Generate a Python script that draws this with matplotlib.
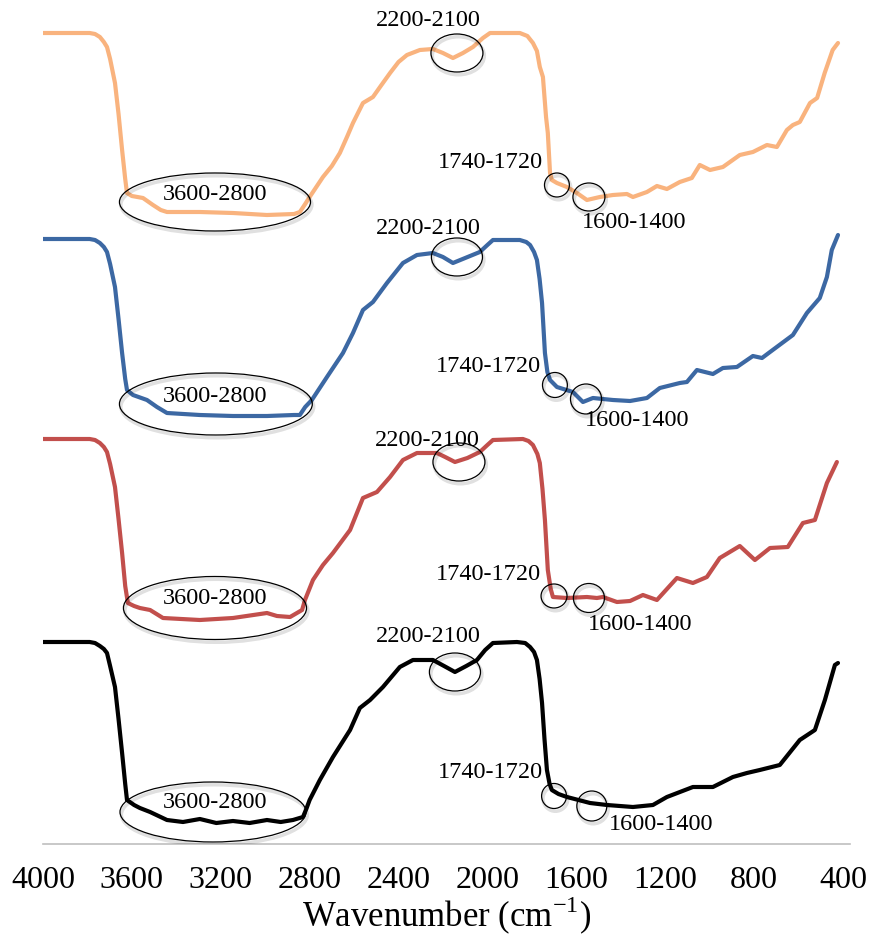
import matplotlib
matplotlib.use("Agg")
import matplotlib.pyplot as plt
from matplotlib.patches import Ellipse
import matplotlib.patheffects as pe

plt.rcParams['font.family'] = ['Liberation Serif', 'DejaVu Serif']
plt.rcParams['mathtext.fontset'] = 'custom'
plt.rcParams['mathtext.rm'] = 'Liberation Serif'

# FTIR spectra, stacked (transmittance, arbitrary units incl. offset)
wn_orange = [4000, 3790, 3766, 3744, 3726, 3712, 3698, 3676, 3660, 3644, 3630, 3622, 3600,
             3550, 3505, 3470, 3442, 3294, 3145, 2992, 2870, 2844, 2820, 2800, 2740, 2700,
             2664, 2630, 2605, 2560, 2515, 2480, 2438, 2400, 2362, 2304, 2245, 2200, 2155,
             2110, 2065, 2020, 1988, 1854, 1820, 1795, 1777, 1764, 1750, 1736, 1728, 1718,
             1710, 1687, 1642, 1597, 1552, 1494, 1435, 1372, 1345, 1282, 1237, 1192, 1134,
             1080, 1044, 998, 940, 864, 805, 742, 697, 652, 625, 594, 548, 516, 482, 446, 422]
t_orange = [811, 811, 810, 807, 802, 797, 785, 761, 730, 694, 665, 651, 648,
            646, 639, 634, 632, 632, 631, 629, 630, 632, 640, 647, 667, 678,
            691, 708, 721, 741, 747, 758, 771, 782, 789, 794, 795, 791, 786,
            791, 797, 806, 811, 811, 808, 801, 793, 777, 767, 727, 711, 671,
            664, 661, 657, 651, 644, 647, 649, 650, 647, 652, 658, 655, 662,
            666, 679, 674, 677, 689, 692, 699, 697, 714, 719, 722, 741, 746, 771, 794, 801]

wn_blue = [4000, 3790, 3766, 3744, 3726, 3712, 3698, 3676, 3660, 3644, 3630, 3622, 3595,
           3532, 3487, 3442, 3294, 3145, 2992, 2870, 2844, 2820, 2790, 2722, 2650, 2605,
           2560, 2515, 2452, 2380, 2317, 2245, 2200, 2155, 2100, 2034, 2000, 1975, 1854,
           1825, 1808, 1790, 1777, 1765, 1754, 1741, 1730, 1718, 1687, 1615, 1570, 1525,
           1435, 1358, 1282, 1224, 1134, 1102, 1057, 985, 940, 877, 805, 764, 728, 625,
           562, 504, 472, 450, 422]
t_blue = [605, 605, 604, 601, 597, 592, 580, 557, 525, 491, 465, 454, 449,
          444, 437, 431, 429, 428, 428, 429, 429, 437, 444, 467, 491, 511,
          534, 542, 561, 581, 589, 591, 587, 581, 586, 592, 599, 604, 604,
          602, 599, 592, 584, 565, 541, 491, 472, 464, 457, 452, 442, 446,
          444, 443, 446, 456, 461, 462, 474, 470, 476, 477, 488, 486, 492, 509,
          531, 546, 567, 594, 609]

wn_red = [4000, 3790, 3766, 3744, 3726, 3712, 3698, 3676, 3660, 3644, 3630, 3618, 3590,
          3564, 3518, 3460, 3294, 3145, 2992, 2947, 2888, 2834, 2821, 2785, 2740, 2695,
          2618, 2560, 2497, 2438, 2380, 2317, 2227, 2190, 2146, 2090, 2034, 2000, 1975,
          1840, 1815, 1795, 1775, 1764, 1752, 1741, 1728, 1715, 1705, 1642, 1552, 1507,
          1480, 1417, 1358, 1300, 1237, 1147, 1075, 1012, 954, 864, 796, 728, 648, 580,
          526, 472, 427]
t_red = [405, 405, 404, 401, 397, 392, 380, 357, 325, 291, 258, 241, 238,
         236, 234, 226, 224, 226, 231, 228, 227, 234, 244, 264, 279, 291,
         314, 346, 352, 367, 384, 391, 391, 387, 382, 386, 392, 399, 404,
         405, 403, 399, 390, 381, 355, 324, 274, 255, 247, 246, 247, 246,
         247, 242, 243, 249, 244, 266, 261, 267, 286, 298, 284, 296, 297, 321,
         324, 361, 382]

wn_black = [4000, 3790, 3766, 3744, 3726, 3712, 3698, 3676, 3660, 3644, 3630, 3622, 3590,
            3564, 3518, 3442, 3370, 3294, 3220, 3145, 3070, 2992, 2930, 2875, 2830, 2815,
            2800, 2754, 2695, 2618, 2574, 2528, 2470, 2394, 2335, 2245, 2195, 2146, 2095,
            2047, 2010, 1975, 1867, 1830, 1808, 1790, 1777, 1765, 1754, 1743, 1732, 1720,
            1710, 1680, 1642, 1538, 1462, 1345, 1255, 1192, 1075, 985, 895, 832, 774, 684,
            594, 526, 481, 436, 422]
t_black = [202, 202, 201, 198, 195, 191, 178, 157, 125, 91, 60, 44, 39,
           36, 32, 24, 22, 25, 21, 23, 21, 24, 22, 24, 27, 35,
           44, 64, 87, 114, 136, 144, 157, 177, 184, 184, 178, 172, 178,
           184, 194, 201, 202, 201, 197, 192, 184, 165, 141, 105, 74, 60,
           54, 50, 47, 41, 39, 37, 39, 47, 57, 57, 67, 71, 74, 79,
           104, 114, 144, 179, 181]

colors = ['#F9B37E', '#3C68A3', '#C24F4C', '#000000']

# marked regions: (center wn, center T, width in wn, height in T)
band_oh = [(3226, 642, 860, 58), (3222, 440, 868, 62), (3226, 236, 824, 63), (3235, 32, 837, 60)]
band_cc = [(2137, 791, 234, 38), (2137, 587, 230, 38), (2128, 382, 234, 38), (2146, 172, 230, 38)]
band_co = [(1687, 659, 112, 24), (1696, 459, 112, 25), (1700, 248, 117, 24), (1700, 48, 112, 25)]
band_ar = [(1543, 647, 144, 28), (1556, 445, 140, 30), (1543, 246, 140, 29), (1530, 38, 135, 30)]

# label positions (wn, T)
lbl_oh = [(3226, 649), (3226, 448), (3226, 246), (3226, 41)]
lbl_cc = [(2267, 824), (2267, 615), (2272, 404), (2267, 207)]
lbl_co = [(1988, 681), (1997, 478), (1997, 269), (1988, 72)]
lbl_ar = [(1340, 622), (1327, 424), (1313, 219), (1219, 20)]

fig = plt.figure(figsize=(8.78, 9.4), dpi=100)
ax = fig.add_axes([43 / 878, 96 / 940, 807 / 878, 844 / 940])

series = [(wn_orange, t_orange), (wn_blue, t_blue), (wn_red, t_red), (wn_black, t_black)]
for (wn, t), c in zip(series, colors):
    ax.plot(wn, t, color=c, lw=3, solid_joinstyle='round', solid_capstyle='round', zorder=2)

# soft drop shadow under the outline only
shadow = [pe.SimpleLineShadow(offset=(1, -2), shadow_color='black', alpha=0.12, linewidth=2.5), pe.Normal()]
for group in (band_oh, band_cc, band_co, band_ar):
    for (cx, cy, w, h) in group:
        e = Ellipse((cx, cy), w, h, fill=False, ec='black', lw=0.9, zorder=3)
        e.set_path_effects(shadow)
        ax.add_patch(e)

for (x, y) in lbl_oh:
    ax.text(x, y, '3600-2800', ha='center', va='center', fontsize=17.5, zorder=4)
for (x, y) in lbl_cc:
    ax.text(x, y, '2200-2100', ha='center', va='center', fontsize=17.5, zorder=4)
for (x, y) in lbl_co:
    ax.text(x, y, '1740-1720', ha='center', va='center', fontsize=17.5, zorder=4)
for (x, y) in lbl_ar:
    ax.text(x, y, '1600-1400', ha='center', va='center', fontsize=17.5, zorder=4)

ax.set_xlim(4000, 368)
ax.set_ylim(0, 844)
ax.set_xticks([4000, 3600, 3200, 2800, 2400, 2000, 1600, 1200, 800, 400])
ax.set_yticks([])
for s in ('top', 'left', 'right'):
    ax.spines[s].set_visible(False)
ax.spines['bottom'].set_color('#BFBFBF')
ax.spines['bottom'].set_linewidth(1.2)
ax.tick_params(axis='x', length=0, pad=16, labelsize=23)
ax.set_xlabel('Wavenumber (cm$^{\\mathrm{-1}}$)', fontsize=25, labelpad=0)

fig.savefig('out.png', dpi=100)
